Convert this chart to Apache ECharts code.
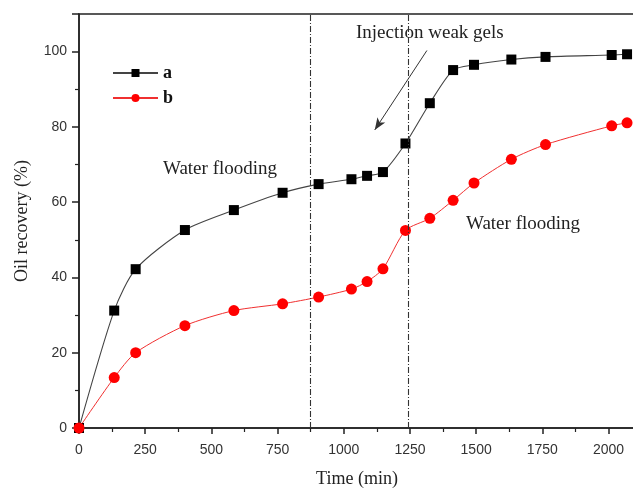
<!DOCTYPE html>
<html>
<head>
<meta charset="utf-8">
<script src="https://cdn.jsdelivr.net/npm/echarts@6/dist/echarts.min.js"></script>
<style>html,body{margin:0;padding:0;background:#fff;}#c{width:633px;height:489px;}</style>
</head>
<body>
<div id="c"></div>
<script>
const timeA = [0, 133, 214, 400, 585, 769, 905, 1029, 1088, 1148, 1233, 1325, 1413, 1492, 1633, 1762, 2012, 2070];
const recoveryA = [0, 31.2, 42.2, 52.6, 57.9, 62.5, 64.8, 66.1, 67.0, 68.0, 75.6, 86.3, 95.1, 96.5, 97.9, 98.6, 99.1, 99.3];
const timeB = [0, 133, 214, 400, 585, 769, 905, 1029, 1088, 1148, 1233, 1325, 1413, 1492, 1633, 1762, 2012, 2070];
const recoveryB = [0, 13.4, 20.0, 27.2, 31.2, 33.0, 34.8, 36.9, 38.9, 42.3, 52.5, 55.7, 60.5, 65.1, 71.4, 75.3, 80.3, 81.1];
const stageLines = [875, 1242];
const arrowFrom = [1314, 100.3];
const arrowTo = [1117, 79.2];

const serif = '"Liberation Serif", "Times New Roman", serif';
const sans = '"Liberation Sans", Arial, sans-serif';

const chart = echarts.init(document.getElementById('c'));
chart.setOption({
  animation: false,
  backgroundColor: '#fff',
  grid: { left: 79, top: 14, right: -2, bottom: 61, containLabel: false, outerBoundsMode: 'none',
    show: true, borderColor: '#222', borderWidth: 1.5, backgroundColor: 'transparent' },
  xAxis: {
    type: 'value', min: 0, max: 2100, interval: 250,
    name: 'Time (min)', nameLocation: 'middle', nameGap: 42,
    nameTextStyle: { fontFamily: serif, fontSize: 18, color: '#222' },
    axisLine: { show: true, lineStyle: { color: '#222', width: 1.5 } },
    axisTick: { show: true, inside: false, length: 6, lineStyle: { color: '#222', width: 1.5 } },
    minorTick: { show: true, splitNumber: 2, length: 4, lineStyle: { color: '#222', width: 1.2 } },
    axisLabel: { fontFamily: sans, fontSize: 14, color: '#333', margin: 15,
      formatter: v => (v % 250 === 0 && v <= 2000) ? String(v) : '' },
    splitLine: { show: false }
  },
  yAxis: {
    type: 'value', min: 0, max: 110, interval: 20,
    name: 'Oil recovery (%)', nameLocation: 'middle', nameGap: 48, nameRotate: 90,
    nameTextStyle: { fontFamily: serif, fontSize: 18, color: '#222' },
    axisLine: { show: true, lineStyle: { color: '#222', width: 1.5 } },
    axisTick: { show: true, inside: false, length: 7, lineStyle: { color: '#222', width: 1.5 } },
    minorTick: { show: true, splitNumber: 2, length: 4, lineStyle: { color: '#222', width: 1.2 } },
    axisLabel: { fontFamily: sans, fontSize: 14, color: '#333', margin: 12,
      formatter: v => (v <= 100) ? String(v) : '' },
    splitLine: { show: false }
  },
  legend: {
    left: 112, top: 63, padding: 0, orient: 'vertical', itemGap: 5, itemWidth: 45, itemHeight: 10,
    textStyle: { fontFamily: serif, fontSize: 18, fontWeight: 'bold', color: '#111', lineHeight: 20 },
    data: ['a', 'b']
  },
  series: [
    {
      name: 'a', type: 'line', smooth: 0.25,
      data: timeA.map((t, i) => [t, recoveryA[i]]),
      symbol: 'rect', symbolSize: 10,
      itemStyle: { color: '#000' },
      lineStyle: { color: '#444', width: 1.1 },
      markLine: {
        silent: true, symbol: ['none', 'none'], label: { show: false },
        lineStyle: { color: '#333', type: [6, 2, 1, 2], width: 1.1 },
        data: stageLines.map(x => ({ xAxis: x }))
      }
    },
    {
      name: 'b', type: 'line', smooth: 0.25,
      data: timeB.map((t, i) => [t, recoveryB[i]]),
      symbol: 'circle', symbolSize: 11,
      itemStyle: { color: '#ff0000' },
      lineStyle: { color: '#f03030', width: 1 },
      markLine: {
        silent: true, symbol: ['none', 'arrow'], symbolSize: [7, 12], label: { show: false },
        lineStyle: { color: '#333', type: 'solid', width: 1 },
        data: [[{ coord: arrowFrom }, { coord: arrowTo }]]
      }
    }
  ],
  graphic: [
    { type: 'text', left: 163, top: 160, style: { text: 'Water flooding', font: '19px ' + serif, fill: '#222' } },
    { type: 'text', left: 356, top: 24, style: { text: 'Injection weak gels', font: '19px ' + serif, fill: '#222' } },
    { type: 'text', left: 466, top: 215, style: { text: 'Water flooding', font: '19px ' + serif, fill: '#222' } }
  ]
});
</script>
</body>
</html>
